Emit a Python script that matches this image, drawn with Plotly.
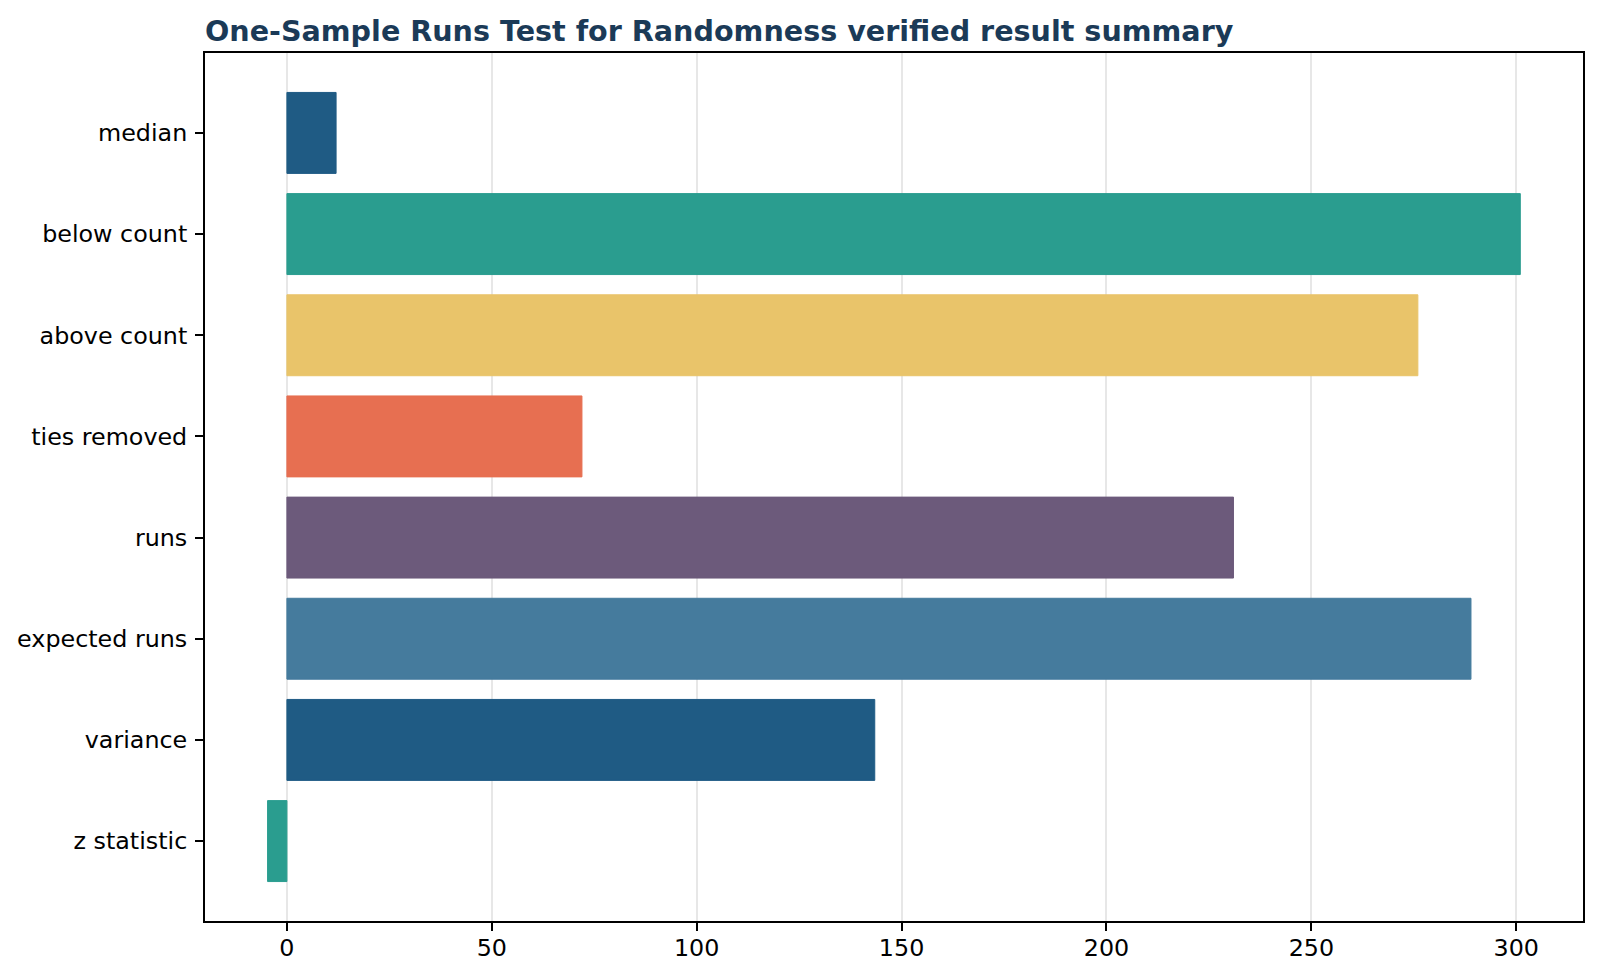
import plotly.graph_objects as go

categories = ["median", "below count", "above count", "ties removed", "runs",
              "expected runs", "variance", "z statistic"]
values = [12.0, 301.0, 276.0, 72.0, 231.0, 288.96, 143.46, -4.72]
palette = ["#1f5b84", "#2a9d8f", "#e9c46a", "#e76f51", "#6c5a7b", "#457b9d"]
bar_colors = [palette[i % len(palette)] for i in range(len(categories))]
x_ticks = [0, 50, 100, 150, 200, 250, 300]

fig = go.Figure()
fig.add_trace(go.Bar(
    x=values,
    y=categories,
    orientation="h",
    width=0.8,
    marker=dict(color=bar_colors, line=dict(color=bar_colors, width=1)),
    showlegend=False,
    hoverinfo="x+y",
))

axis_font = dict(family="DejaVu Sans", size=23.8, color="#000000")

fig.update_layout(
    width=1600,
    height=978,
    autosize=False,
    margin=dict(l=205, r=17, t=53, b=57, pad=0),
    paper_bgcolor="white",
    plot_bgcolor="white",
    bargap=0.2,
    title=dict(
        text="<b>One-Sample Runs Test for Randomness verified result summary</b>",
        font=dict(family="DejaVu Sans", size=28.6, color="#1b3a57"),
        x=205 / 1600,
        xref="container",
        xanchor="left",
        y=1 - 31 / 978,
        yref="container",
        yanchor="middle",
    ),
    xaxis=dict(
        range=[-19.99, 316.3],
        tickmode="array",
        tickvals=x_ticks,
        ticktext=[str(t) for t in x_ticks],
        showgrid=True,
        gridcolor="rgba(176,176,176,0.3)",
        gridwidth=1.5,
        zeroline=False,
        showline=True,
        linecolor="#000000",
        linewidth=2,
        mirror=True,
        ticks="outside",
        ticklen=8,
        tickwidth=2,
        tickcolor="#000000",
        tickfont=axis_font,
        layer="above traces",
        ticklabelstandoff=-4,
    ),
    yaxis=dict(
        type="category",
        categoryorder="array",
        categoryarray=categories,
        range=[7.79, -0.79],
        showgrid=False,
        zeroline=False,
        showline=True,
        linecolor="#000000",
        linewidth=2,
        mirror=True,
        ticks="outside",
        ticklen=8,
        tickwidth=2,
        tickcolor="#000000",
        tickfont=axis_font,
        ticklabelstandoff=3,
    ),
)

fig.write_html(
    "out.html",
    config={"displayModeBar": False},
    post_script="document.body.style.margin='0px';document.body.style.padding='0px';",
)
